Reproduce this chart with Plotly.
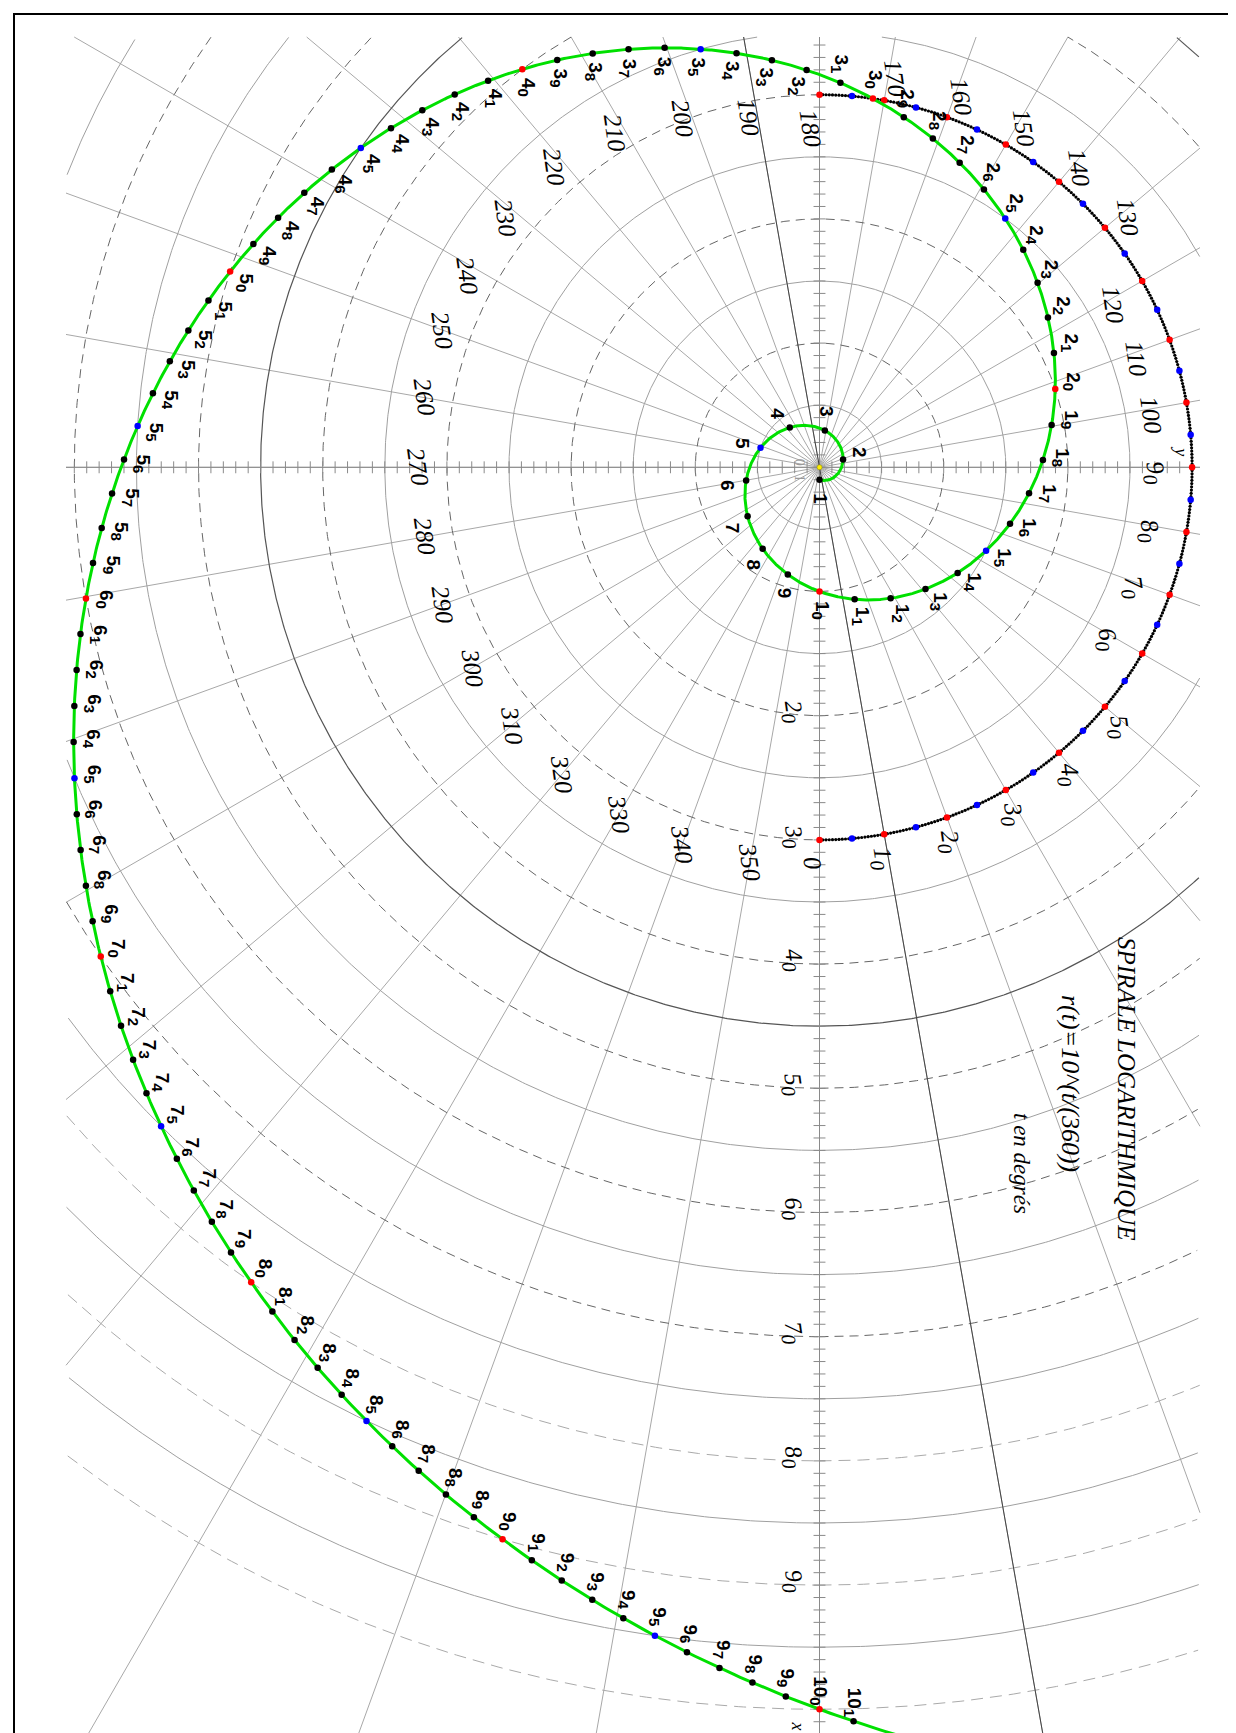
import numpy as np
import plotly.graph_objects as go

# ---------------- data ----------------
spiral_marks = list(range(1, 102))            # values r = 1 .. 101 marked on the spiral
angle_marks = list(range(0, 360, 10))          # angle labels in degrees
axis_labels = [20, 30, 40, 50, 60, 70, 80, 90]  # labels on the x axis
grid_radii = list(range(5, 105, 5))            # concentric circles
grid_angles = list(range(0, 360, 10))          # radial lines
dark_angle = 10                                # darker diameter
dotted_radius = 30                             # dotted half circle (angle scale)
dotted_step = 0.5
t_max = 726
title_lines = ["SPIRALE LOGARITHMIQUE", "r(t)=10^(t/(360))", "t en degrés"]
origin_labels = ["0", "1"]

# ---------------- geometry of the page ----------------
W, H = 1236, 1733
CX, CY = 811.5, 459.3      # pixel of the origin
S = 12.42                  # pixels per unit
# plotly x = math y (to the right), plotly y = math x (downwards)
x_range = [-CX / S, (W - CX) / S]
y_range = [(H - CY) / S, -CY / S]
# clip rectangle of the grid (math coords)
XM0, XM1 = (29 - CY) / S, (1728 - CY) / S
YM0, YM1 = (58 - CX) / S, (1192 - CX) / S


def clip(xm, ym):
    xm = np.asarray(xm, float)
    ym = np.asarray(ym, float)
    bad = (xm < XM0) | (xm > XM1) | (ym < YM0) | (ym > YM1)
    xs = [None if b else float(v) for v, b in zip(ym, bad)]
    ys = [None if b else float(v) for v, b in zip(xm, bad)]
    return xs, ys


def ray_len(th):
    c, s = np.cos(th), np.sin(th)
    lims = []
    if c > 1e-9: lims.append(XM1 / c)
    if c < -1e-9: lims.append(XM0 / c)
    if s > 1e-9: lims.append(YM1 / s)
    if s < -1e-9: lims.append(YM0 / s)
    return min(lims)


def sublab(n, subsize):
    s = str(n)
    if len(s) >= 2:
        return s[:-1] + "<sub><span style='font-size:%dpx'>" % subsize + s[-1] + "</span></sub>"
    return s


fig = go.Figure()

# ---------------- radial lines ----------------
rx, ry = [], []
for a in grid_angles:
    th = np.radians(a)
    L = ray_len(th)
    rx += [0, L * np.sin(th), None]
    ry += [0, L * np.cos(th), None]
fig.add_trace(go.Scatter(x=rx, y=ry, mode="lines", line=dict(color="#a8a8a8", width=1), hoverinfo="skip"))

# ---------------- circles ----------------
tt = np.radians(np.linspace(0, 360, 1441))


def circ_group(radii):
    X, Y = [], []
    for r in radii:
        xs, ys = clip(r * np.cos(tt), r * np.sin(tt))
        X += xs + [None]
        Y += ys + [None]
    return X, Y

solid = [r for r in grid_radii if r % 10 != 0 and r != 45]
dash_in = [r for r in grid_radii if r % 10 == 0 and r <= 70]
dash_out = [r for r in grid_radii if r % 10 == 0 and r > 70]
X, Y = circ_group(solid)
fig.add_trace(go.Scatter(x=X, y=Y, mode="lines", line=dict(color="#a0a0a0", width=1), hoverinfo="skip"))
X, Y = circ_group(dash_in)
fig.add_trace(go.Scatter(x=X, y=Y, mode="lines", line=dict(color="#666666", width=1, dash="9px,6px"), hoverinfo="skip"))
X, Y = circ_group(dash_out)
fig.add_trace(go.Scatter(x=X, y=Y, mode="lines", line=dict(color="#aaaaaa", width=1, dash="12px,7px"), hoverinfo="skip"))
X, Y = circ_group([45])
fig.add_trace(go.Scatter(x=X, y=Y, mode="lines", line=dict(color="#555555", width=1.2), hoverinfo="skip"))

# ---------------- axes with ticks ----------------
ax_x = [0, 0, None, YM0, YM1]
ax_y = [XM0, XM1, None, 0, 0]
fig.add_trace(go.Scatter(x=ax_x, y=ax_y, mode="lines", line=dict(color="#8a8a8a", width=1), hoverinfo="skip"))
tk_x, tk_y = [], []
h = 0.48
for k in range(int(np.ceil(XM0)), int(np.floor(XM1)) + 1):
    tk_x += [-h, h, None]
    tk_y += [k, k, None]
for k in range(int(np.ceil(YM0)), int(np.floor(YM1)) + 1):
    tk_x += [k, k, None]
    tk_y += [-h, h, None]
fig.add_trace(go.Scatter(x=tk_x, y=tk_y, mode="lines", line=dict(color="#8a8a8a", width=1), hoverinfo="skip"))

# darker diameter
th = np.radians(dark_angle)
L1, L2 = ray_len(th), ray_len(th + np.pi)
fig.add_trace(go.Scatter(x=[L1 * np.sin(th), -L2 * np.sin(th)], y=[L1 * np.cos(th), -L2 * np.cos(th)],
                         mode="lines", line=dict(color="#444444", width=1), hoverinfo="skip"))

# ---------------- dotted half circle (angle scale) ----------------
deg = np.arange(0, 180 + dotted_step / 2, dotted_step)
blk = [d for d in deg if d % 5 != 0]
blu = [d for d in deg if d % 5 == 0 and d % 10 != 0]
red = [d for d in deg if d % 10 == 0]
for arr, col, sz in [(blk, "black", 3.2), (blu, "#0000ff", 6.5), (red, "#ff0000", 6.5)]:
    a = np.radians(arr)
    fig.add_trace(go.Scatter(x=dotted_radius * np.sin(a), y=dotted_radius * np.cos(a), mode="markers",
                             marker=dict(color=col, size=sz, line=dict(width=0)), hoverinfo="skip"))

# ---------------- spiral ----------------
ts = np.arange(0, t_max, 0.25)
rs = 10 ** (ts / 360.0)
xs, ys = clip(rs * np.cos(np.radians(ts)), rs * np.sin(np.radians(ts)))
fig.add_trace(go.Scatter(x=xs, y=ys, mode="lines", line=dict(color="#00e000", width=3), hoverinfo="skip"))

marks = np.array(spiral_marks, float)
tm = 360 * np.log10(marks)
mx, my = marks * np.cos(np.radians(tm)), marks * np.sin(np.radians(tm))
groups = [([i for i, n in enumerate(spiral_marks) if n % 5 != 0], "black"),
          ([i for i, n in enumerate(spiral_marks) if n % 5 == 0 and n % 10 != 0], "#0000ff"),
          ([i for i, n in enumerate(spiral_marks) if n % 10 == 0], "#ff0000")]
for idx, col in groups:
    fig.add_trace(go.Scatter(x=my[idx], y=mx[idx], mode="markers",
                             marker=dict(color=col, size=6.5, line=dict(width=0)), hoverinfo="skip"))

# origin
fig.add_trace(go.Scatter(x=[0], y=[0], mode="markers",
                         marker=dict(color="#ffee00", size=5, line=dict(color="#888800", width=0.5)), hoverinfo="skip"))

ann = []
# faint origin labels
for k, lab in enumerate(origin_labels):
    ann.append(dict(x=-1.65, y=-0.45 + 1.3 * k, text=lab, showarrow=False, textangle=90,
                    font=dict(family="Liberation Serif", size=14, color="#9a9a9a")))

# spiral labels: outward on the first turns, inward (slightly turned) on the last one
for n, t, x0, y0 in zip(spiral_marks, tm, mx, my):
    if t < 540:
        phi = t + 5
    else:
        tmod = t - 360
        phi = t + 180 - 30 + (tmod - 180) * (30 / 180.0)
    d = 1.5
    ux, uy = np.cos(np.radians(phi)), np.sin(np.radians(phi))
    ann.append(dict(x=y0 + d * uy, y=x0 + d * ux, text="<b>" + sublab(n, 15) + "</b>",
                    showarrow=False, textangle=90, xanchor="center", yanchor="middle",
                    font=dict(family="Liberation Sans", size=19, color="black")))

# angle labels
for a in angle_marks:
    if a < 180:
        rl = 27.0 if 55 < a < 125 else 31.9
        al = a - 1
    else:
        rl = 32.3 - 5.0 * max(0.0, 1 - (a - 180) / 35.0)
        al = a + (1.5 if a < 250 else 0)
    txt = sublab(a, 20) if 0 < a < 100 else str(a)
    ann.append(dict(x=rl * np.sin(np.radians(al)), y=rl * np.cos(np.radians(al)), text="<i>" + txt + "</i>",
                    showarrow=False, textangle=82, xanchor="center", yanchor="middle",
                    font=dict(family="Liberation Serif", size=25, color="black")))

# x axis labels
for v in axis_labels:
    ann.append(dict(x=-2.2, y=v - 0.3, text="<i>" + sublab(v, 20) + "</i>", showarrow=False, textangle=82,
                    xanchor="center", yanchor="middle", font=dict(family="Liberation Serif", size=24, color="black")))

# axis names
ann.append(dict(x=-1.73, y=101.3, text="<i>x</i>", showarrow=False, textangle=90,
                font=dict(family="Liberation Serif", size=18, color="black")))
ann.append(dict(x=29.1, y=-1.3, text="<i>y</i>", showarrow=False, textangle=90,
                font=dict(family="Liberation Serif", size=18, color="black")))

# titles (paper coords)
for txt, px, py, fs in [(title_lines[0], 1119, 1080, 25), (title_lines[1], 1063, 1075, 26), (title_lines[2], 1014, 1155, 23)]:
    ann.append(dict(x=px / W, y=1 - py / H, xref="paper", yref="paper", text="<i>" + txt + "</i>",
                    showarrow=False, textangle=90, xanchor="center", yanchor="middle",
                    font=dict(family="Liberation Serif", size=fs, color="black")))

fig.update_layout(
    width=W, height=H, margin=dict(l=0, r=0, t=0, b=0),
    paper_bgcolor="white", plot_bgcolor="white", showlegend=False,
    xaxis=dict(range=x_range, visible=False, showgrid=False, zeroline=False, fixedrange=True),
    yaxis=dict(range=y_range, visible=False, showgrid=False, zeroline=False, fixedrange=True),
    annotations=ann,
    shapes=[dict(type="rect", xref="paper", yref="paper", x0=6 / W, x1=1233 / W, y0=1 - 1730 / H, y1=1 - 6 / H,
                 line=dict(color="black", width=2), fillcolor="rgba(0,0,0,0)")],
)
fig.write_html("out.html", config={"displayModeBar": False})
